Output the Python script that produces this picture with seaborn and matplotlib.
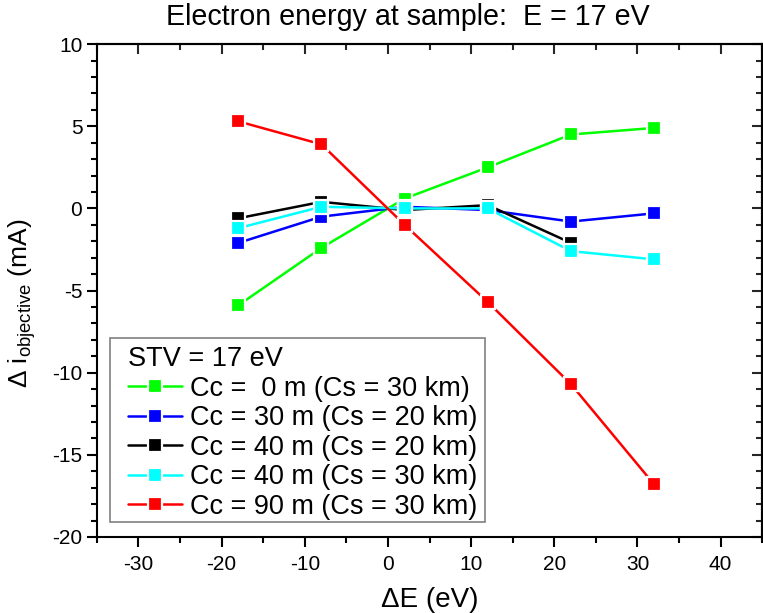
import numpy as np
import pandas as pd
import seaborn as sns
import matplotlib.pyplot as plt
from matplotlib.patches import Rectangle
from matplotlib.ticker import MultipleLocator

# data
delta_e = [-18, -8, 2, 12, 22, 32]
cc0_cs30 = [-5.9, -2.4, 0.6, 2.5, 4.5, 4.9]
cc30_cs20 = [-2.1, -0.5, 0.1, -0.1, -0.8, -0.3]
cc40_cs20 = [-0.6, 0.4, -0.1, 0.2, -2.1, np.nan]
cc40_cs30 = [-1.2, 0.1, 0.0, 0.0, -2.6, -3.1]
cc90_cs30 = [5.3, 3.9, -1.0, -5.7, -10.7, -16.8]

labels = ["Cc =  0 m (Cs = 30 km)", "Cc = 30 m (Cs = 20 km)",
          "Cc = 40 m (Cs = 20 km)", "Cc = 40 m (Cs = 30 km)",
          "Cc = 90 m (Cs = 30 km)"]
colors = ["#00ff00", "#0000ff", "#000000", "#00ffff", "#ff0000"]
series = [cc0_cs30, cc30_cs20, cc40_cs20, cc40_cs30, cc90_cs30]

sns.set_style("white")
plt.rcParams['font.family'] = ['Liberation Sans', 'DejaVu Sans']
plt.rcParams['mathtext.fontset'] = 'custom'
plt.rcParams['mathtext.rm'] = 'Liberation Sans'
plt.rcParams['mathtext.it'] = 'Liberation Sans'
plt.rcParams['axes.unicode_minus'] = False
plt.rcParams['text.color'] = 'black'
plt.rcParams['axes.labelcolor'] = 'black'

fig = plt.figure(figsize=(7.63, 6.13), dpi=100)
ax = fig.add_axes([0.127, 0.124, 0.872, 0.804])

for lab, col, vals in zip(labels, colors, series):
    d = pd.DataFrame({'dE': delta_e, 'di': vals}).dropna()
    sns.lineplot(data=d, x='dE', y='di', ax=ax, color=col, label=lab,
                 marker='s', markersize=10.3, markeredgecolor='white',
                 markeredgewidth=1.6, linewidth=1.8, estimator=None,
                 sort=False)

ax.set_xlim(-35, 45)
ax.set_ylim(-20, 10)
ax.xaxis.set_major_locator(MultipleLocator(10))
ax.xaxis.set_minor_locator(MultipleLocator(5))
ax.yaxis.set_major_locator(MultipleLocator(5))
ax.yaxis.set_minor_locator(MultipleLocator(1))
ax.tick_params(which='both', direction='out', width=1.5, colors='black',
               labelsize=15, left=True, bottom=True)
ax.tick_params(which='major', length=7)
ax.tick_params(which='minor', length=4)
ax.tick_params(axis='x', pad=6)

# mirrored ticks on top and right, pointing inward
top = ax.secondary_xaxis('top')
right = ax.secondary_yaxis('right')
top.xaxis.set_major_locator(MultipleLocator(10))
top.xaxis.set_minor_locator(MultipleLocator(5))
right.yaxis.set_major_locator(MultipleLocator(5))
right.yaxis.set_minor_locator(MultipleLocator(1))
for sec in (top, right):
    sec.tick_params(which='both', direction='in', width=1.5, labeltop=False,
                    labelright=False)
    sec.tick_params(which='major', length=7)
    sec.tick_params(which='minor', length=4)
    for s in sec.spines.values():
        s.set_linewidth(1.5)

for s in ax.spines.values():
    s.set_linewidth(1.5)
    s.set_color('black')

ax.set_xlabel("ΔE (eV)", fontsize=20, labelpad=9)
ax.set_ylabel(r"Δ i$_{\mathrm{objective}}$ (mA)", fontsize=19)
ax.yaxis.set_label_coords(-0.089, 0.475)
fig.text(408 / 763, 1 - 25 / 613, "Electron energy at sample:  E = 17 eV",
         fontsize=20.6, ha='center', va='baseline')

# legend box drawn separately so the padding can differ per side
box = Rectangle((13 / 666, 15 / 493), 375 / 666, 184 / 493,
                transform=ax.transAxes, facecolor='white',
                edgecolor='#808080', linewidth=1.2, zorder=4.5)
ax.add_patch(box)
leg = ax.legend(title="STV = 17 eV", loc='upper left',
                bbox_to_anchor=(31 / 666, 191 / 493), borderaxespad=0,
                fontsize=19.5, title_fontsize=19.5, alignment='left',
                frameon=False, handlelength=2.0, handletextpad=0.3,
                labelspacing=0.13, borderpad=0)
leg.set_zorder(5)

fig.savefig("out.png", dpi=100)
